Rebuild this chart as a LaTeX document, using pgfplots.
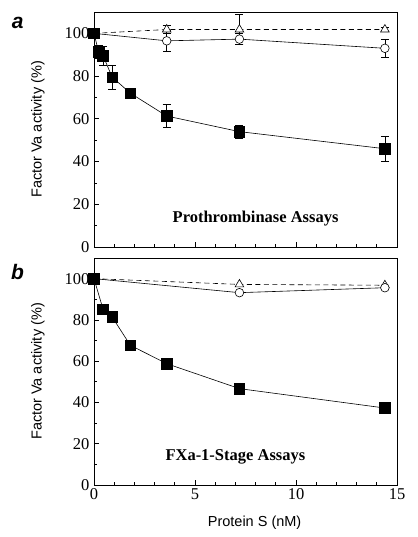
\documentclass[border=0pt]{standalone}
\usepackage{fontspec}
\setmainfont{Liberation Serif}
\setsansfont{Liberation Sans}
\usepackage{pgfplots}
\pgfplotsset{compat=1.18}
\pgfplotsset{
  panel/.style={
    scale only axis, width=303pt, clip=false,
    xmin=0, xmax=15, ymin=0, ymax=110,
    xtick={0,5,10,15}, minor x tick num=4,
    ytick={0,20,40,60,80,100}, minor y tick num=1,
    xtick pos=bottom, ytick pos=left, tick align=inside,
    major tick length=5pt, minor tick length=3pt,
    axis line style={line width=0.9pt}, tick style={line width=0.7pt, black},
    /pgf/number format/assume math mode=true,
    tick label style={font=\fontsize{16.5}{16.5}\selectfont},
    yticklabel style={xshift=-1pt},
    ylabel={Factor Va activity (\%)},
    ylabel style={font=\sffamily\fontsize{14.5}{14.5}\selectfont, at={(axis description cs:-0.185,0.5)}, anchor=center},
  },
  sq/.style={black, line width=0.6pt, mark=square*, mark size=5.3pt, mark options={solid, fill=black}},
  ci/.style={black, line width=0.6pt, mark=*, mark size=4.3pt, mark options={solid, fill=white, line width=0.6pt}},
  tr/.style={black, line width=0.6pt, dash pattern=on 5pt off 3.5pt, mark=triangle*, mark size=5pt, mark options={solid, fill=white, line width=0.6pt}},
  eb/.style={error bars/.cd, y dir=both, y explicit, error mark options={rotate=90, mark size=4pt, line width=0.6pt, solid}, error bar style={line width=0.6pt, solid}},
}
\begin{document}
\begin{tikzpicture}
\useasboundingbox (-94pt,-290pt) rectangle (323pt,247pt);
% panel a
\begin{axis}[panel, height=235pt, xticklabels={}]
\addplot[tr, eb] coordinates {(0,100) +- (0,0) (3.6,101.8) +- (0,2) (7.2,101.8) +- (0,7) (14.4,101.8) +- (0,1)};
\addplot[ci, eb] coordinates {(0,100) +- (0,0) (3.6,96.5) +- (0,5) (7.2,97.3) +- (0,2.5) (14.4,93) +- (0,4)};
\addplot[sq, eb] coordinates {(0,100) +- (0,0) (0.225,91.5) +- (0,3) (0.45,89.5) +- (0,4.5) (0.9,79.5) +- (0,5.5) (1.8,72) +- (0,1) (3.6,61.3) +- (0,5.5) (7.2,54) +- (0,3) (14.4,46) +- (0,6)};
\node[font=\bfseries\fontsize{16.5}{16.5}\selectfont] at (axis cs:8.0,13.5) {Prothrombinase Assays};
\node[font=\sffamily\bfseries\itshape\fontsize{21}{21}\selectfont] at (axis description cs:-0.252,0.953) {a};
\end{axis}
% panel b
\begin{axis}[panel, height=227pt, at={(0pt,-238pt)}, anchor=south west,
  xlabel={Protein S (nM)},
  xlabel style={font=\sffamily\fontsize{14.5}{14.5}\selectfont, at={(axis description cs:0.53,0)}, anchor=center, yshift=-38pt}]
\addplot[tr] coordinates {(0,100) (7.2,97.2) (14.4,96.8)};
\addplot[ci] coordinates {(0,100) (7.2,93.2) (14.4,95.6)};
\addplot[sq] coordinates {(0,100) (0.45,85.1) (0.9,81.4) (1.8,67.7) (3.6,58.8) (7.2,46.7) (14.4,37.3)};
\node[font=\bfseries\fontsize{16.5}{16.5}\selectfont] at (axis cs:7.0,13.6) {FXa-1-Stage Assays};
\node[font=\sffamily\bfseries\itshape\fontsize{21}{21}\selectfont] at (axis description cs:-0.252,0.938) {b};
\end{axis}
\end{tikzpicture}
\end{document}
